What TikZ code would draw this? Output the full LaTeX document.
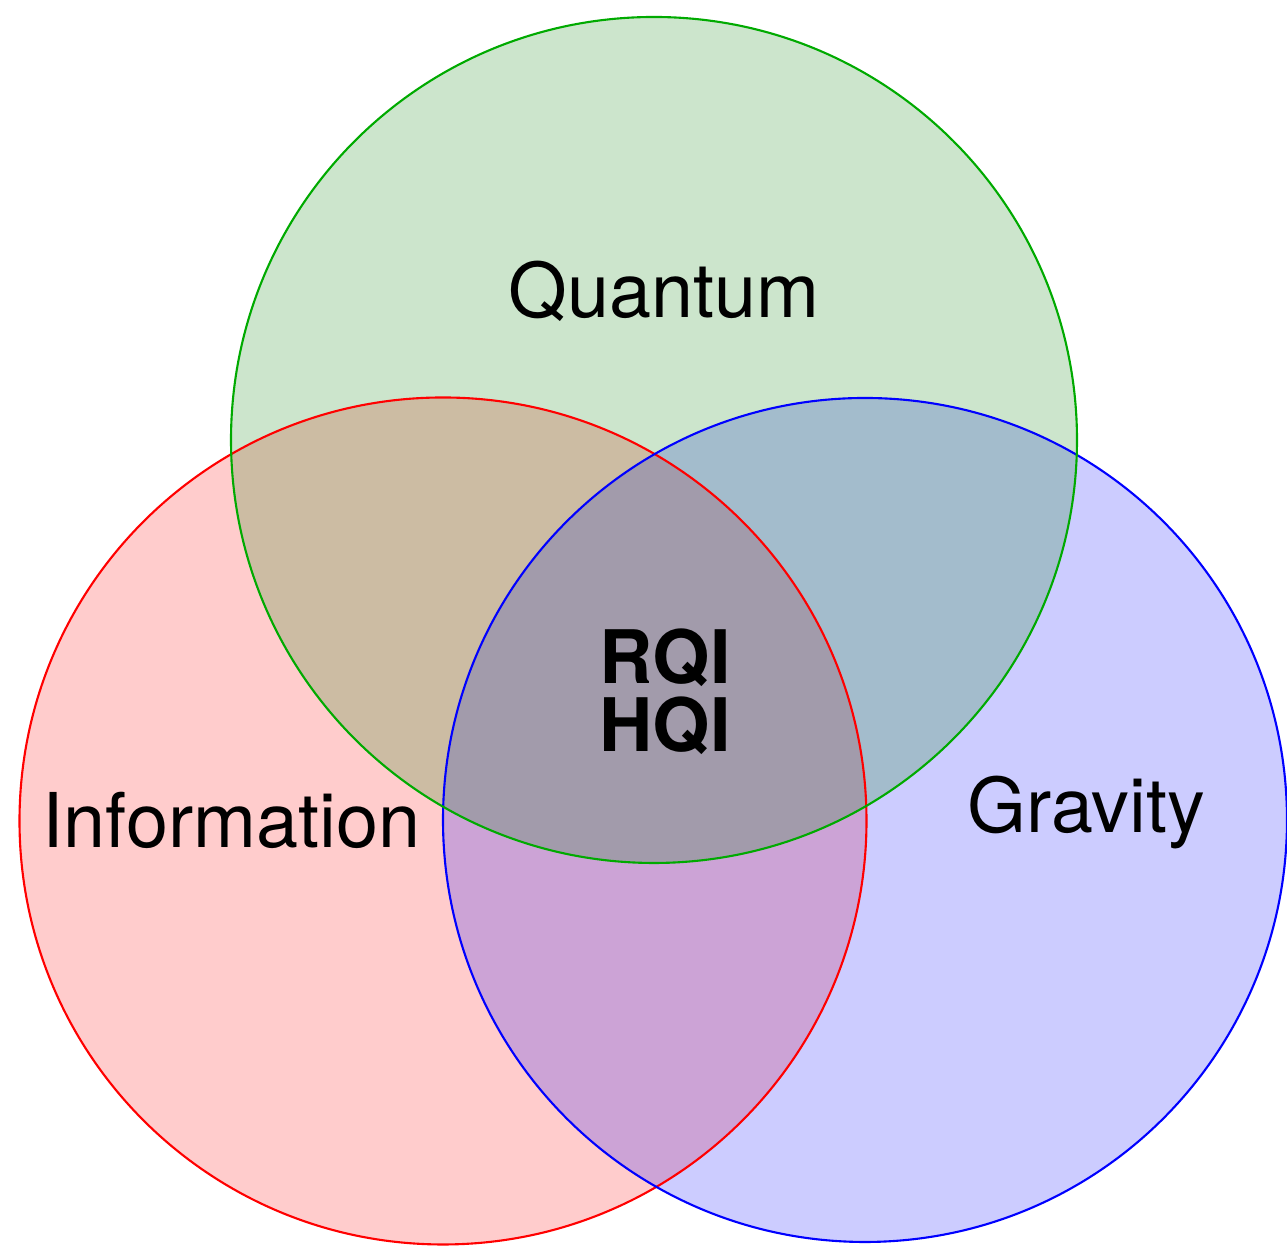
\documentclass[tikz,border=0pt]{standalone}
\usepackage{fontspec}
\setmainfont{TeX Gyre Heros}
\usepackage{tikz}
\usetikzlibrary{calc}

\definecolor{qgreen}{RGB}{0,127,0}
\definecolor{qline}{RGB}{0,170,0}

\begin{document}
\begin{tikzpicture}[
    setfill/.style={fill opacity=0.2},
    setline/.style={line width=0.6pt},
    setlabel/.style={anchor=base, inner sep=0pt, font=\fontsize{21.5}{26}\selectfont},
    corelabel/.style={anchor=base, inner sep=0pt, align=center, font=\fontsize{21}{19.6}\selectfont\bfseries}
]
    \useasboundingbox (0,0) rectangle (12.87,12.48);

    % centri
    \coordinate (Q) at (6.54,8.08);
    \coordinate (I) at (4.43,4.27);
    \coordinate (G) at (8.65,4.28);

    % riempimenti
    \fill[setfill, red] (I) circle (4.235);
    \fill[setfill, blue] (G) circle (4.22);
    \fill[setfill, qgreen] (Q) circle (4.23);

    % bordi
    \draw[setline, red] (I) circle (4.235);
    \draw[setline, blue] (G) circle (4.22);
    \draw[setline, qline] (Q) circle (4.23);

    % etichette
    \node[setlabel] (quantum) at (6.64,9.30) {Quantum};
    \node[setlabel] (information) at (2.315,4.00) {Information};
    \node[setlabel] (gravity) at (10.865,4.15) {Gravity};

    % intersezione
    \node[corelabel] (core) at (6.65,4.96) {RQI\\HQI};
\end{tikzpicture}
\end{document}
